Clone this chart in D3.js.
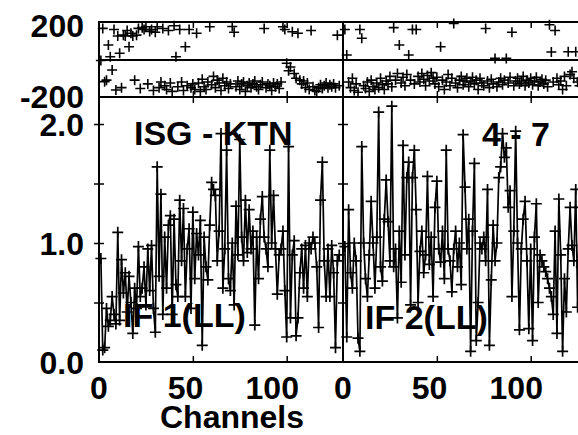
<!DOCTYPE html>
<html><head><meta charset="utf-8">
<script src="https://cdn.jsdelivr.net/npm/d3@7"></script>
<style>
body{margin:0;background:#fff}
svg{display:block}
text{font-family:"Liberation Sans",Arial,Helvetica,sans-serif;font-weight:bold;fill:#000}
</style>
</head><body>
<svg id="c" width="578" height="435"></svg>
<script>
// ---------- data ----------
const channels = d3.range(1, 129);
const ampIF1 = [0.87,0.10,0.12,0.45,0.30,0.35,0.55,0.40,0.32,1.09,0.35,0.86,0.58,0.75,0.42,0.72,0.50,0.24,0.62,0.45,
0.97,0.55,0.62,0.80,0.48,0.95,0.60,0.98,0.45,0.25,1.64,0.72,1.41,0.40,1.05,0.62,1.15,1.23,0.40,1.20,
0.65,0.55,1.36,0.85,1.29,0.55,0.95,1.12,0.45,1.26,0.70,1.08,0.90,1.19,0.14,1.05,0.80,0.69,1.15,1.51,
1.45,1.40,0.85,1.10,1.92,0.62,0.95,1.78,0.70,0.60,1.00,0.48,1.31,0.90,1.87,1.05,0.85,1.36,0.92,1.28,
0.95,1.10,0.31,1.05,0.70,1.20,1.39,1.05,0.95,0.80,1.78,1.00,1.40,0.95,0.57,0.90,0.95,1.10,0.60,0.21,
1.81,0.37,0.90,1.02,0.22,0.37,0.75,0.95,0.62,0.98,0.55,1.00,0.95,1.05,1.00,0.80,0.29,1.36,1.68,0.85,
0.55,0.95,0.55,0.98,0.75,0.12,0.85,0.90];
const ampIF2 = [0.97,0.21,1.28,0.75,0.62,1.00,0.85,0.20,0.09,1.81,1.00,0.70,0.55,0.90,1.35,1.00,0.62,1.05,2.10,0.80,
0.68,1.20,1.53,1.18,0.85,2.15,0.80,0.95,0.37,1.10,0.67,1.82,0.90,1.55,1.68,0.48,1.55,1.78,1.28,0.50,
0.93,1.10,0.75,0.90,1.56,0.82,1.05,0.55,1.30,1.52,0.95,0.84,1.10,0.70,1.78,0.95,0.85,0.59,0.95,1.10,
0.80,1.00,0.65,1.91,1.47,0.95,1.20,0.09,1.10,1.67,0.18,0.50,1.00,0.95,1.05,0.85,1.45,0.14,0.69,1.15,
0.85,1.00,1.55,1.64,1.92,1.72,1.80,1.30,1.44,0.55,1.10,1.94,1.00,0.27,0.95,1.20,1.35,0.85,0.28,0.95,
0.18,1.05,1.33,0.50,0.90,0.85,0.80,0.76,0.70,0.62,0.55,0.40,1.10,0.24,1.37,0.90,0.09,0.70,0.42,0.95,
1.30,0.98,0.85,1.45,0.46,1.30,0.80,0.90];
const phaseIF1 = [-5,166,-118,-110,77,15,-56,160,-163,125,33,-150,130,125,155,68,140,125,-110,130,
166,-155,170,160,175,-130,150,160,-165,145,175,-150,-120,165,-140,-160,155,-125,-170,180,
15,-145,160,-120,-165,68,-140,160,-150,-130,-160,140,-125,-170,-105,-145,-160,-120,175,-135,
-90,-150,-110,-125,-165,-100,-140,-120,-155,-130,176,145,-145,-115,-160,-130,-120,-170,-140,-125,
-150,-130,-115,-145,-160,-135,-120,165,-150,-130,-140,-165,-125,-145,-130,-155,-120,175,160,-20,
-60,-40,148,-75,-100,140,-110,-130,-115,-150,-125,-160,155,-145,-165,-170,-150,-135,-155,-140,
-125,-150,-135,-145,-130,-150,130,-140];
const phaseIF2 = [160,24,-120,-150,-100,-165,-130,-175,160,113,-140,-155,-120,-170,-110,-145,-160,-125,-150,-100,
-135,-160,-115,-130,-90,-145,170,-110,-75,77,-125,-95,-140,-80,24,-110,160,-130,160,-90,
-120,-75,-105,-140,-85,-115,-70,-100,-130,-95,-145,68,-110,-160,-120,-80,-140,-100,192,-125,
-150,-110,-90,-135,-115,-100,-145,-120,-95,-130,-110,-160,-100,-125,-140,165,-115,-150,-105,-130,
6,-145,-120,-100,-135,-110,6,-125,-95,145,-140,-115,-100,-130,-120,-90,-140,-110,-125,-100,
-135,-115,-95,-140,-120,-105,-130,-110,-145,185,40,-120,155,-100,-135,-115,-160,-90,-140,41,
-80,-65,-100,41,-120,-140,-110,-130];
const xTickValues = [0, 50, 100];
const ampTickValues = [0.5, 1.0, 1.5, 2.0];
const ampLabelValues = [0.0, 1.0, 2.0];
const phaseLabelValues = [200, -200];
const ifNames = ["IF 1(LL)", "IF 2(LL)"];
const baselineName = "ISG - KTN";
const antennaName = "4 - 7";
const xTitle = "Channels";

// ---------- layout ----------
const svg = d3.select("#c");
svg.append("rect").attr("width",578).attr("height",435).attr("fill","#fff");
const panelW = 244, left0 = 99;
const ampTop = 97, ampBot = 362, phTop = 22;
const yAmp = d3.scaleLinear().domain([0, 2.227]).range([ampBot, ampTop]);
const yPh = d3.scaleLinear().domain([-200, 200]).range([ampTop, phTop]);

const panels = [
  {amp: ampIF1, ph: phaseIF1, name: ifNames[0]},
  {amp: ampIF2, ph: phaseIF2, name: ifNames[1]}
];
const plus = s => `M${-s},0H${s}M0,${-s}V${s}`;

// annotations (under data)
svg.append("text").attr("x",134).attr("y",145).attr("font-size",34).text(baselineName);
svg.append("text").attr("x",482).attr("y",146).attr("font-size",34).text(antennaName);

panels.forEach((p, i) => {
  const x0 = left0 + i * panelW;
  const x = d3.scaleLinear().domain([0, 130]).range([x0, x0 + panelW]);
  const xLab = d3.scaleLinear().domain([0, 130]).range([x0, x0 + panelW * 0.923]);
  const g = svg.append("g");

  g.append("text").attr("x", i === 0 ? 123 : 365).attr("y", i === 0 ? 327 : 329)
    .attr("font-size",34).text(p.name);

  // frames
  g.append("rect").attr("x",x0).attr("y",ampTop).attr("width",panelW).attr("height",ampBot-ampTop)
    .attr("fill","none").attr("stroke","#000").attr("stroke-width",2);
  g.append("rect").attr("x",x0).attr("y",phTop).attr("width",panelW).attr("height",ampTop-phTop)
    .attr("fill","none").attr("stroke","#000").attr("stroke-width",2);
  g.append("line").attr("x1",x0).attr("x2",x0+panelW).attr("y1",60).attr("y2",60)
    .attr("stroke","#000").attr("stroke-width",2);

  // x ticks (inward) on all horizontal borders
  const tickAxis = (y, size) => {
    const a = g.append("g").attr("transform",`translate(0,${y})`)
      .call(d3.axisBottom(x).tickValues(xTickValues.filter(v=>v>0)).tickSize(size).tickSizeOuter(0).tickFormat(""));
    a.select(".domain").remove();
    a.selectAll("line").attr("stroke","#000").attr("stroke-width",1.5);
  };
  tickAxis(ampBot, -6);
  tickAxis(ampTop, 6);
  tickAxis(ampTop, -6);
  tickAxis(phTop, 6);

  // y ticks on amplitude panel edges (both directions)
  [[x0, 5],[x0, -5]].forEach(([xx, s]) => {
    const a = g.append("g").attr("transform",`translate(${xx},0)`)
      .call(d3.axisLeft(yAmp).tickValues(ampTickValues).tickSize(s).tickSizeOuter(0).tickFormat(""));
    a.select(".domain").remove();
    a.selectAll("line").attr("stroke","#000").attr("stroke-width",1.5);
  });

  // x tick labels
  g.selectAll(null).data(xTickValues).join("text")
    .attr("x", d => xLab(d)).attr("y", 399).attr("text-anchor","middle").attr("font-size",32)
    .text(d => d);

  // amplitude line + markers
  const pts = channels.map((c, k) => [x(c), yAmp(p.amp[k])]);
  g.append("path").attr("d", d3.line()(pts)).attr("fill","none").attr("stroke","#000").attr("stroke-width",1.7);
  g.selectAll(null).data(pts).join("path").attr("d", plus(5.5))
    .attr("transform", d => `translate(${d[0]},${d[1]})`).attr("stroke","#000").attr("stroke-width",1.7);

  // phase markers
  g.selectAll(null).data(channels.map((c,k)=>[x(c), yPh(p.ph[k])])).join("path").attr("d", plus(5))
    .attr("transform", d => `translate(${d[0]},${d[1]})`).attr("stroke","#000").attr("stroke-width",1.6);
});

// y labels
svg.selectAll(null).data(ampLabelValues).join("text")
  .attr("x",84).attr("y", d => yAmp(d)).attr("dy","0.36em").attr("text-anchor","end").attr("font-size",32)
  .text(d => d.toFixed(1));
svg.selectAll(null).data(phaseLabelValues).join("text")
  .attr("x",84).attr("y", d => d > 0 ? 25 : 96).attr("dy","0.36em").attr("text-anchor","end").attr("font-size",32)
  .text(d => d);

svg.append("text").attr("x",232).attr("y",428).attr("text-anchor","middle").attr("font-size",32).text(xTitle);
</script>
</body></html>
